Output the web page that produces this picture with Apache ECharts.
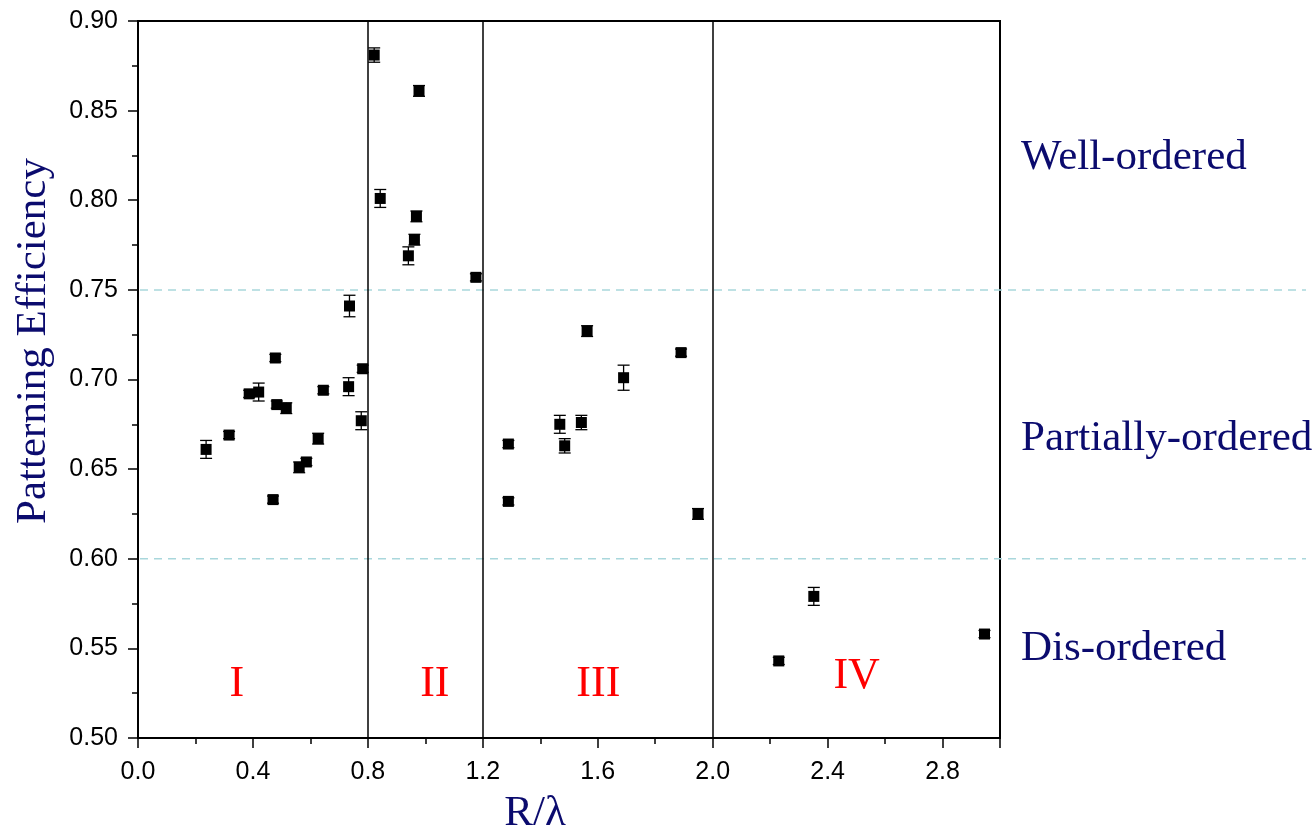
<!DOCTYPE html>
<html>
<head>
<meta charset="utf-8">
<title>Patterning Efficiency vs R/λ</title>
<script src="https://cdn.jsdelivr.net/npm/echarts@6/dist/echarts.min.js"></script>
<style>
    html, body { margin: 0; padding: 0; background: #fff; }
    #chart { width: 1312px; height: 831px; }
</style>
</head>
<body>
<div id="chart"></div>
<script>
    // values
    var rx = [0.237, 0.317, 0.387, 0.420, 0.478, 0.483, 0.516, 0.470, 0.561, 0.586, 0.627, 0.645, 0.733, 0.736, 0.782, 0.777,
              0.822, 0.978, 0.843, 0.969, 0.962, 0.941, 1.176,
              1.563, 1.890, 1.690, 1.468, 1.543, 1.289, 1.485, 1.289, 1.949,
              2.230, 2.352, 2.946];
    var eff = [0.661, 0.669, 0.692, 0.693, 0.712, 0.686, 0.684, 0.633, 0.651, 0.654, 0.667, 0.694, 0.696, 0.741, 0.706, 0.677,
               0.881, 0.861, 0.801, 0.791, 0.778, 0.769, 0.757,
               0.727, 0.715, 0.701, 0.675, 0.676, 0.664, 0.663, 0.632, 0.625,
               0.543, 0.579, 0.558];
    var err = [0.005, 0.002, 0.002, 0.005, 0.002, 0.002, 0.003, 0.002, 0.003, 0.002, 0.003, 0.002, 0.005, 0.006, 0.002, 0.005,
               0.004, 0.003, 0.005, 0.003, 0.003, 0.005, 0.002,
               0.003, 0.002, 0.007, 0.005, 0.004, 0.002, 0.004, 0.002, 0.003,
               0.002, 0.005, 0.002];

    var boundaryX = [0.8, 1.2, 2.0];
    var thresholds = [0.75, 0.60];
    var regionNames = ['I', 'II', 'III', 'IV'];
    var regionX = [0.344, 1.033, 1.602, 2.501];
    var regionY = [0.530, 0.530, 0.530, 0.5346];
    var orderNames = ['Well-ordered', 'Partially-ordered', 'Dis-ordered'];
    var orderY = [0.824, 0.667, 0.550];

    var serif = '"Liberation Serif", "Times New Roman", serif';
    var sans = '"Liberation Sans", Arial, sans-serif';
    var navy = '#0b0b6e';

    var chart = echarts.init(document.getElementById('chart'));

    var points = rx.map(function (x, i) { return [x, eff[i], err[i]]; });

    chart.setOption({
        animation: false,
        grid: {
            left: 138, right: 312, top: 21, bottom: 93,
            show: true, borderColor: '#000', borderWidth: 2
        },
        xAxis: {
            type: 'value',
            min: 0, max: 3, interval: 0.4,
            axisLine: { onZero: false, lineStyle: { color: '#000', width: 2 } },
            axisTick: { length: 10, lineStyle: { color: '#000', width: 1.5 } },
            minorTick: { show: true, splitNumber: 2, length: 6, lineStyle: { color: '#000', width: 1.5 } },
            splitLine: { show: false },
            axisLabel: {
                margin: 22, color: '#000', fontSize: 25, fontFamily: sans,
                showMaxLabel: false,
                formatter: function (v) { return v.toFixed(1); }
            }
        },
        yAxis: {
            type: 'value',
            min: 0.5, max: 0.9, interval: 0.05,
            axisLine: { show: true, lineStyle: { color: '#000', width: 2 } },
            axisTick: { show: true, length: 10, lineStyle: { color: '#000', width: 1.5 } },
            minorTick: { show: true, splitNumber: 2, length: 6, lineStyle: { color: '#000', width: 1.5 } },
            splitLine: { show: false },
            axisLabel: {
                margin: 20, color: '#000', fontSize: 25, fontFamily: sans,
                formatter: function (v) { return v.toFixed(2); }
            }
        },
        series: [
            {
                type: 'custom',
                data: points,
                encode: { x: 0, y: 1 },
                z: 3,
                renderItem: function (params, api) {
                    var x = api.value(0), y = api.value(1), e = api.value(2);
                    var hi = api.coord([x, y + e]);
                    var lo = api.coord([x, y - e]);
                    var hw = 6;
                    var st = { stroke: '#000', lineWidth: 1.3 };
                    return {
                        type: 'group',
                        children: [
                            { type: 'line', shape: { x1: hi[0], y1: hi[1], x2: lo[0], y2: lo[1] }, style: st },
                            { type: 'line', shape: { x1: hi[0] - hw, y1: hi[1], x2: hi[0] + hw, y2: hi[1] }, style: st },
                            { type: 'line', shape: { x1: lo[0] - hw, y1: lo[1], x2: lo[0] + hw, y2: lo[1] }, style: st }
                        ]
                    };
                }
            },
            {
                type: 'scatter',
                data: points,
                symbol: 'rect',
                symbolSize: 11,
                z: 4,
                itemStyle: { color: '#000', opacity: 1 },
                markLine: {
                    silent: true,
                    symbol: 'none',
                    label: { show: false },
                    lineStyle: { color: '#000', width: 1.5, type: 'solid' },
                    data: boundaryX.map(function (b) { return { xAxis: b }; })
                }
            }
        ]
    });

    // reference lines, region numerals and side labels placed through the grid's scales
    var graphics = [];
    var gridLeft = chart.convertToPixel({ gridIndex: 0 }, [0, 0.5])[0];
    var gridRight = chart.convertToPixel({ gridIndex: 0 }, [3, 0.5])[0];

    thresholds.forEach(function (t) {
        var py = chart.convertToPixel({ gridIndex: 0 }, [0, t])[1];
        graphics.push({
            type: 'line', z: 1,
            shape: { x1: gridLeft + 2, y1: py, x2: 1306, y2: py },
            style: { stroke: '#a9d7dc', lineWidth: 1.5, lineDash: [8, 6] }
        });
    });

    regionNames.forEach(function (n, i) {
        var p = chart.convertToPixel({ gridIndex: 0 }, [regionX[i], regionY[i]]);
        graphics.push({
            type: 'text', x: p[0], y: p[1], z: 5,
            style: { text: n, fill: '#ff0000', font: '44px ' + serif, textAlign: 'center', textVerticalAlign: 'middle' }
        });
    });

    orderNames.forEach(function (n, i) {
        var py = chart.convertToPixel({ gridIndex: 0 }, [0, orderY[i]])[1];
        graphics.push({
            type: 'text', x: gridRight + 21, y: py, z: 5,
            style: { text: n, fill: navy, font: '43px ' + serif, textAlign: 'left', textVerticalAlign: 'middle' }
        });
    });

    // axis titles
    graphics.push({
        type: 'text', x: 34, y: 341, rotation: Math.PI / 2, z: 5,
        style: { text: 'Patterning Efficiency', fill: navy, font: '43px ' + serif, textAlign: 'center', textVerticalAlign: 'middle' }
    });
    graphics.push({
        type: 'text', x: 535, y: 814, z: 5,
        style: { text: 'R/λ', fill: navy, font: '43px ' + serif, textAlign: 'center', textVerticalAlign: 'middle' }
    });

    chart.setOption({ graphic: graphics });
</script>
</body>
</html>
